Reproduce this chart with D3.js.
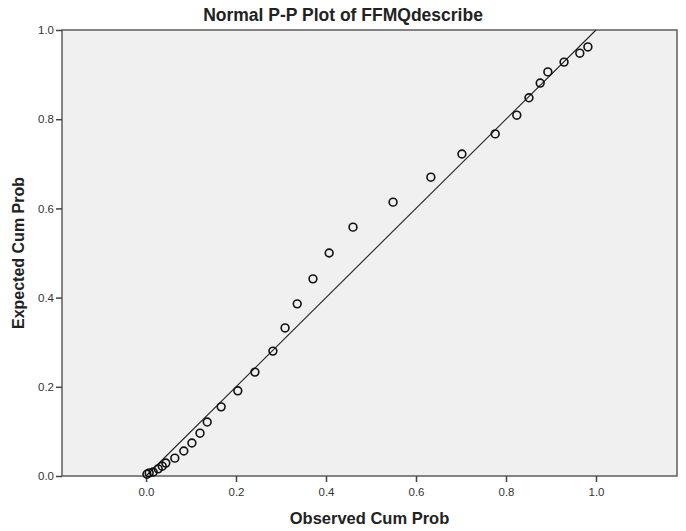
<!DOCTYPE html>
<html>
<head>
<meta charset="utf-8">
<script src="https://cdn.jsdelivr.net/npm/d3@7"></script>
<style>
  body { margin: 0; background: #fff; }
  svg { font-family: "Liberation Sans", Arial, sans-serif; }
</style>
</head>
<body>
<div id="chart"></div>
<script>
// observed vs expected cumulative probabilities
const observed = [0.002, 0.007, 0.016, 0.027, 0.036, 0.044, 0.064, 0.084, 0.102, 0.120,
  0.136, 0.167, 0.204, 0.242, 0.282, 0.309, 0.336, 0.371, 0.407, 0.460,
  0.549, 0.633, 0.702, 0.776, 0.824, 0.851, 0.876, 0.893, 0.929, 0.964, 0.982];
const expected = [0.004, 0.007, 0.009, 0.016, 0.022, 0.029, 0.040, 0.056, 0.074, 0.096,
  0.121, 0.155, 0.191, 0.233, 0.280, 0.332, 0.386, 0.442, 0.500, 0.558,
  0.614, 0.670, 0.722, 0.767, 0.809, 0.848, 0.881, 0.906, 0.928, 0.948, 0.962];
const xTicks = [0.0, 0.2, 0.4, 0.6, 0.8, 1.0];
const yTicks = [0.0, 0.2, 0.4, 0.6, 0.8, 1.0];
const refLine = [[0, 0], [1, 1]];

const width = 686, height = 531;
const margin = { top: 30, right: 9, bottom: 55, left: 62 };

const svg = d3.select("#chart")
  .append("svg")
  .attr("width", width)
  .attr("height", height);

const x = d3.scaleLinear()
  .domain([-0.1867, 1.18])
  .range([margin.left, width - margin.right]);

const y = d3.scaleLinear()
  .domain([0, 1])
  .range([height - margin.bottom, margin.top]);

// plot area
svg.append("rect")
  .attr("x", margin.left)
  .attr("y", margin.top)
  .attr("width", width - margin.left - margin.right)
  .attr("height", height - margin.top - margin.bottom)
  .attr("fill", "#f0f0f0")
  .attr("stroke", "#5e5e5e")
  .attr("stroke-width", 1.5);

const fmt = d3.format(".1f");

const xAxis = svg.append("g")
  .attr("transform", `translate(0,${height - margin.bottom})`)
  .call(d3.axisBottom(x).tickValues(xTicks).tickFormat(fmt).tickSize(6).tickPadding(6));

const yAxis = svg.append("g")
  .attr("transform", `translate(${margin.left},0)`)
  .call(d3.axisLeft(y).tickValues(yTicks).tickFormat(fmt).tickSize(6).tickPadding(2));

[xAxis, yAxis].forEach(ax => {
  ax.select(".domain").remove();
  ax.selectAll(".tick line").attr("stroke", "#444").attr("stroke-width", 1.5);
  ax.selectAll(".tick text")
    .attr("fill", "#333")
    .style("font-size", "11.5px");
});

// diagonal reference line
svg.append("path")
  .datum(refLine)
  .attr("d", d3.line().x(d => x(d[0])).y(d => y(d[1])))
  .attr("stroke", "#222")
  .attr("stroke-width", 1.1)
  .attr("fill", "none");

svg.append("g")
  .selectAll("circle")
  .data(observed)
  .join("circle")
  .attr("cx", d => x(d))
  .attr("cy", (d, i) => y(expected[i]))
  .attr("r", 3.9)
  .attr("fill", "none")
  .attr("stroke", "#111")
  .attr("stroke-width", 1.6);

// titles
svg.append("text")
  .attr("x", width / 2)
  .attr("y", 21)
  .attr("text-anchor", "middle")
  .style("font-size", "17.5px")
  .style("font-weight", "bold")
  .attr("fill", "#222")
  .text("Normal P-P Plot of FFMQdescribe");

svg.append("text")
  .attr("x", (margin.left + width - margin.right) / 2)
  .attr("y", 524)
  .attr("text-anchor", "middle")
  .style("font-size", "16.5px")
  .style("font-weight", "bold")
  .attr("fill", "#222")
  .text("Observed Cum Prob");

svg.append("text")
  .attr("transform", `translate(24,${(margin.top + height - margin.bottom) / 2}) rotate(-90)`)
  .attr("text-anchor", "middle")
  .style("font-size", "16px")
  .style("font-weight", "bold")
  .attr("fill", "#222")
  .text("Expected Cum Prob");
</script>
</body>
</html>
